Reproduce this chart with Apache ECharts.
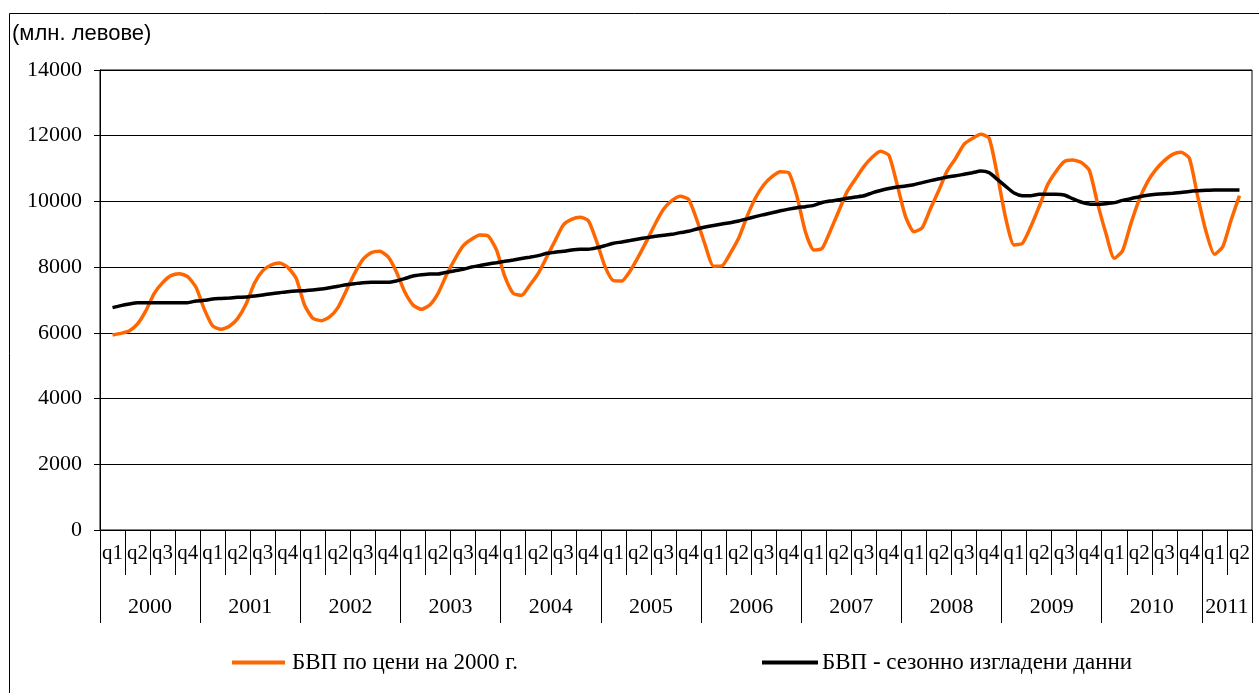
<!DOCTYPE html>
<html>
<head>
<meta charset="utf-8">
<script src="https://cdn.jsdelivr.net/npm/echarts@6/dist/echarts.min.js"></script>
<style>html,body{margin:0;padding:0;background:#fff;}#c{width:1259px;height:693px;}</style>
</head>
<body>
<div id="c"></div>
<script>
// Sub-quarter readings (3 per quarter), from 2000 q1 centre to 2011 q2 centre
const gdpName = 'БВП по цени на 2000 г.';
const saName = 'БВП - сезонно изгладени данни';
const years = ['2000','2001','2002','2003','2004','2005','2006','2007','2008','2009','2010','2011'];
const quarterNames = ['q1','q2','q3','q4'];
const quarterCount = 46;

const gdp = [5935,5985,6057,6270,6675,7203,7528,7741,7802,7710,7386,6716,6209,6108,6199,6442,6878,7508,7893,8065,
8126,7994,7660,6848,6442,6371,6483,6767,7284,7811,8238,8441,8482,8319,7862,7250,6850,6716,6848,7203,
7761,8238,8644,8847,8978,8948,8522,7710,7203,7142,7457,7811,8299,8796,9283,9455,9516,9414,8775,8014,
7588,7578,7883,8319,8806,9313,9760,10023,10156,10064,9435,8670,8030,8040,8421,8877,9535,10095,10500,10753,
10905,10875,10145,9079,8522,8572,9110,9709,10297,10683,11058,11342,11525,11403,10500,9535,9079,9201,9790,10348,
10936,11312,11738,11915,12042,11930,10800,9485,8674,8725,9232,9840,10500,10905,11210,11261,11190,10957,9942,9029,
8268,8502,9333,10064,10602,10976,11241,11433,11494,11311,10145,9079,8390,8623,9435,10176];

const gdpSA = [6767,6828,6878,6919,6919,6919,6919,6919,6919,6919,6969,6990,7031,7046,7061,7081,7091,7122,7152,7193,
7223,7254,7274,7284,7304,7335,7375,7416,7467,7497,7528,7538,7538,7538,7578,7649,7730,7766,7791,7791,
7842,7893,7933,8004,8050,8096,8136,8177,8217,8263,8304,8350,8421,8456,8482,8522,8543,8543,8588,8654,
8725,8766,8811,8857,8898,8938,8969,8999,9050,9090,9161,9220,9270,9313,9353,9404,9470,9536,9597,9653,
9714,9765,9810,9841,9881,9968,10013,10049,10094,10135,10171,10262,10333,10394,10439,10470,10510,10571,10632,10688,
10743,10779,10827,10875,10926,10875,10670,10459,10257,10176,10176,10216,10216,10216,10196,10084,9983,9922,9912,9932,
9963,10033,10084,10145,10186,10216,10237,10252,10272,10303,10323,10338,10348,10348,10348,10348];

// positions in quarter units: first reading at centre of 2000 q1, 3 readings per quarter
const toPairs = arr => arr.map((v, j) => [0.5 + j / 3, v]);

const quarterTicks = [];
const quarterLabelPos = [];
for (let i = 0; i <= quarterCount; i++) quarterTicks.push(i);
for (let i = 0; i < quarterCount; i++) quarterLabelPos.push(i + 0.5);
const yearTicks = [];
const yearLabelPos = [];
years.forEach((y, i) => {
  yearTicks.push(i * 4);
  const end = Math.min((i + 1) * 4, quarterCount);
  yearLabelPos.push((i * 4 + end) / 2);
});
yearTicks.push(quarterCount);

const serif = 'Liberation Serif';
const chart = echarts.init(document.getElementById('c'), null, {renderer: 'canvas'});
chart.setOption({
  animation: false,
  backgroundColor: '#fff',
  title: {
    text: '(млн. левове)', left: 7, top: 18,
    textStyle: {fontFamily: 'Liberation Sans', fontSize: 22, fontWeight: 'normal', color: '#000'}
  },
  graphic: [{
    type: 'rect', left: 7, top: 11, z: 100, silent: true,
    shape: {width: 1260, height: 690},
    style: {fill: 'none', stroke: '#000', lineWidth: 1}
  }],
  grid: {left: 100, right: 7, top: 70, bottom: 163, show: true, borderColor: '#000', borderWidth: 1, containLabel: false},
  legend: [
    {data: [gdpName], left: 232, top: 651, padding: 0, itemWidth: 53, itemHeight: 4, icon: 'rect', itemGap: 0,
     textStyle: {fontFamily: serif, fontSize: 23, color: '#000', padding: [0, 0, 0, 2]}},
    {data: [saName], left: 762, top: 651, padding: 0, itemWidth: 56, itemHeight: 4, icon: 'rect', itemGap: 0,
     textStyle: {fontFamily: serif, fontSize: 23, color: '#000', padding: [0, 0, 0, -1]}}
  ],
  xAxis: [
    {type: 'value', min: 0, max: quarterCount, show: false},
    {type: 'value', min: 0, max: quarterCount, position: 'bottom',
     axisLine: {show: true, lineStyle: {color: '#000', width: 1}},
     axisTick: {show: true, customValues: quarterTicks, length: 45, lineStyle: {color: '#000', width: 1}},
     axisLabel: {customValues: quarterLabelPos, margin: 13, fontFamily: serif, fontSize: 21, color: '#000',
       formatter: v => quarterNames[Math.floor(v) % 4]},
     splitLine: {show: false}},
    {type: 'value', min: 0, max: quarterCount, position: 'bottom',
     axisLine: {show: false},
     axisTick: {show: true, customValues: yearTicks, length: 93, lineStyle: {color: '#000', width: 1}},
     axisLabel: {customValues: yearLabelPos, margin: 66, fontFamily: serif, fontSize: 22, color: '#000',
       formatter: v => years[Math.floor(v / 4)]},
     splitLine: {show: false}}
  ],
  yAxis: {
    type: 'value', min: 0, max: 14000, interval: 2000,
    axisLine: {show: true, lineStyle: {color: '#000', width: 1}},
    axisTick: {show: true, length: 6, lineStyle: {color: '#000'}},
    axisLabel: {margin: 18, fontFamily: serif, fontSize: 22, color: '#000', formatter: v => String(v)},
    splitLine: {show: true, lineStyle: {color: '#000', width: 1}}
  },
  series: [
    {name: gdpName, type: 'line', xAxisIndex: 0, data: toPairs(gdp), showSymbol: false, smooth: 0.2,
     color: '#FF6600', lineStyle: {color: '#FF6600', width: 3.5}, z: 3},
    {name: saName, type: 'line', xAxisIndex: 0, data: toPairs(gdpSA), showSymbol: false, smooth: 0.2,
     color: '#000', lineStyle: {color: '#000', width: 3.5}, z: 4}
  ]
});
</script>
</body>
</html>
